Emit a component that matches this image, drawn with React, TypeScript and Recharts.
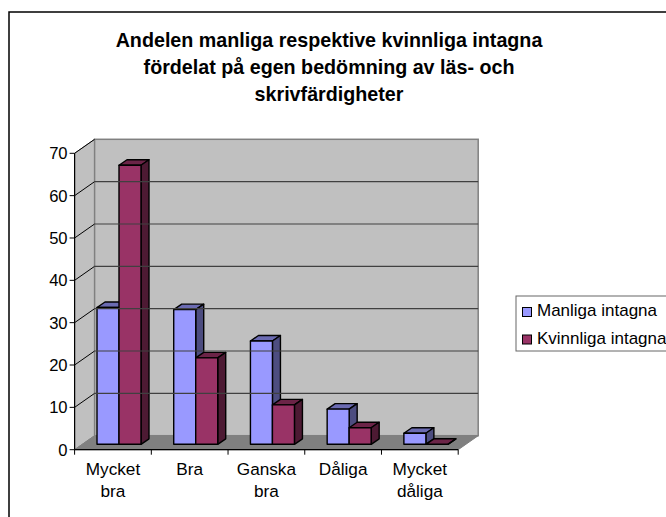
import React from "react";
import { BarChart, Bar, XAxis, YAxis, ReferenceArea, ReferenceLine } from "recharts";

const categories = ["Mycket bra", "Bra", "Ganska bra", "Dåliga", "Mycket dåliga"];
const manliga = [32.3, 31.8, 24.4, 8.3, 2.6];
const kvinnliga = [65.9, 20.4, 9.3, 3.9, 0];
const yTicks = [0, 10, 20, 30, 40, 50, 60, 70];
const titleLines = [
  "Andelen manliga respektive kvinnliga intagna",
  "fördelat på egen bedömning av läs- och",
  "skrivfärdigheter",
];
const legendItems = ["Manliga intagna", "Kvinnliga intagna"];
const data = categories.map((name, i) => ({ name, manliga: manliga[i], kvinnliga: kvinnliga[i] }));

const FONT = "'Liberation Sans', Arial, sans-serif";
const DX = 20;
const DY = 14;
const BAR_DX = 8;
const BAR_DY = 5.5;
const SHIFT_X = 6.4;
const SHIFT_Y = 5.4;

const Walls = (p: any) => {
  const { x, y, width, height } = p;
  const b = y + height;
  const r = x + width;
  return (
    <g>
      <polygon points={`${x},${y} ${x + DX},${y - DY} ${x + DX},${b - DY} ${x},${b}`} fill="#c0c0c0" stroke="#808080" strokeWidth={1} />
      <rect x={x + DX} y={y - DY} width={width} height={height} fill="#c0c0c0" stroke="#808080" strokeWidth={1.5} />
      <polygon points={`${x},${b} ${x + DX},${b - DY} ${r + DX},${b - DY} ${r},${b}`} fill="#808080" stroke="#808080" strokeWidth={1} />
    </g>
  );
};

const GridLine = (last: boolean) => (p: any) => {
  const { x1, x2, y1 } = p;
  return (
    <g>
      <line x1={x1} y1={y1} x2={x1 + DX} y2={y1 - DY} stroke="#000" strokeWidth={1} />
      {!last && <line x1={x1 + DX} y1={y1 - DY} x2={x2 + DX} y2={y1 - DY} stroke="#404040" strokeWidth={1.2} />}
    </g>
  );
};

const Box = (front: string, top: string, side: string) => (p: any) => {
  const x = p.x + SHIFT_X;
  const y = p.y - SHIFT_Y;
  const w = p.width;
  const h = p.height;
  const s = { stroke: "#000", strokeWidth: 1.4, strokeLinejoin: "round" as const };
  return (
    <g>
      <polygon points={`${x},${y} ${x + BAR_DX},${y - BAR_DY} ${x + w + BAR_DX},${y - BAR_DY} ${x + w},${y}`} fill={top} {...s} />
      <polygon points={`${x + w},${y} ${x + w + BAR_DX},${y - BAR_DY} ${x + w + BAR_DX},${y + h - BAR_DY} ${x + w},${y + h}`} fill={side} {...s} />
      {h > 0 && <rect x={x} y={y} width={w} height={h} fill={front} {...s} />}
    </g>
  );
};

const CatTick = (p: any) => {
  const { x, y, payload, index, width, visibleTicksCount } = p;
  const step = width / visibleTicksCount;
  const words = String(payload.value).split(" ");
  return (
    <g>
      <line x1={x + step / 2} y1={y - 8} x2={x + step / 2} y2={y - 3} stroke="#000" />
      {index === 0 && <line x1={x - step / 2} y1={y - 8} x2={x - step / 2} y2={y - 3} stroke="#000" />}
      {words.map((w: string, i: number) => (
        <text key={w} x={x} y={y + 17 + i * 22} textAnchor="middle" fontFamily={FONT} fontSize={17.2} fill="#000">{w}</text>
      ))}
    </g>
  );
};

export default function App() {
  return (
    <div style={{ position: "absolute", left: 0, top: 0, width: 666, height: 517, background: "#fff", overflow: "hidden" }}>
      <BarChart
        width={666}
        height={517}
        data={data}
        barSize={22}
        barGap={0}
        margin={{ top: 153.3, left: 0, right: 207.8, bottom: 0 }}
        style={{ position: "absolute", left: 0, top: 0 }}
      >
        <rect x={9} y={12} width={690} height={520} fill="#fff" stroke="#000" strokeWidth={1.5} />
        <ReferenceArea x1={categories[0]} x2={categories[4]} y1={0} y2={70} ifOverflow="visible" shape={Walls} />
        {yTicks.slice(1).map((v) => (
          <ReferenceLine key={v} y={v} ifOverflow="visible" shape={GridLine(v === 70)} />
        ))}
        <XAxis dataKey="name" axisLine={{ stroke: "#000", strokeWidth: 1.2 }} tickLine={false} interval={0} tick={CatTick} height={67.3} />
        <YAxis
          domain={[0, 70]}
          ticks={yTicks}
          width={74.6}
          interval={0}
          axisLine={{ stroke: "#000", strokeWidth: 1.2 }}
          tickLine={{ stroke: "#000" }}
          tickSize={5}
          tick={{ fontFamily: FONT, fontSize: 16.6, fill: "#000" }}
        />
        <Bar dataKey="manliga" isAnimationActive={false} shape={Box("#9999ff", "#6b6bb2", "#4d4d80")} />
        <Bar dataKey="kvinnliga" isAnimationActive={false} shape={Box("#993366", "#6b2447", "#4d1a33")} />
        <rect x={516} y={296} width={160} height={55} fill="#fff" stroke="#666" strokeWidth={1} />
        {legendItems.map((t, i) => (
          <g key={t}>
            <rect x={522.5} y={307.5 + i * 27.5} width={9} height={9} fill={i === 0 ? "#9999ff" : "#993366"} stroke="#000" strokeWidth={1} />
            <text x={537} y={316 + i * 27.5} fontFamily={FONT} fontSize={17} fill="#000">{t}</text>
          </g>
        ))}
        {titleLines.map((t, i) => (
          <text key={t} x={329} y={47 + i * 27} textAnchor="middle" fontFamily={FONT} fontSize={19.7} fontWeight="bold" fill="#000">{t}</text>
        ))}
      </BarChart>
    </div>
  );
}
